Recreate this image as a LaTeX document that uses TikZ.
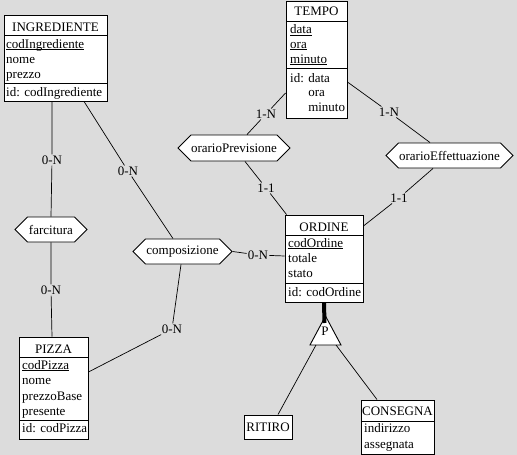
\documentclass[tikz,border=0pt]{standalone}
\usepackage{fontspec}
\setmainfont{Liberation Serif}
\usetikzlibrary{shapes.symbols,calc}
\definecolor{canvas}{RGB}{220,220,220}
% identifier attribute: underlined just below the baseline
\newcommand\idattr[1]{\underline{\smash{#1}}}
\begin{document}
\begin{tikzpicture}[x=1pt,y=-1pt,
  font=\fontsize{13}{15}\selectfont,
  boxline/.style={line width=0.9pt},
  entity/.style={boxline, draw, fill=white, rectangle, inner sep=0pt},
  rel/.style={boxline, draw, fill=white, signal, signal to=east and west,
    signal pointer angle=90, inner xsep=0pt, inner ysep=0pt, minimum height=25},
  card/.style={fill=canvas, inner sep=1pt},
  attr/.style={anchor=base west, inner sep=0pt},
  etitle/.style={anchor=base, inner sep=0pt},
  link/.style={line width=0.7pt},
]
\useasboundingbox (0,0) rectangle (517,455);
\fill[canvas] (0,0) rectangle (517,455);

% ---------- entities ----------
\node[entity, minimum width=103, minimum height=86] (ingr) at (55.5,58) {};
\draw[boxline] (4,35) -- (107,35);
\draw[boxline] (4,83) -- (107,83);
\node[etitle] (ingr-t) at (55.5,31) {INGREDIENTE};
\node[attr] (ingr-a1) at (6,48) {\idattr{codIngrediente}};
\node[attr] (ingr-a2) at (6,63) {nome};
\node[attr] (ingr-a3) at (6,78) {prezzo};
\node[attr] (ingr-id) at (6,96) {id: codIngrediente};

\node[entity, minimum width=61, minimum height=117] (tempo) at (316.5,59.5) {};
\draw[boxline] (286,21) -- (347,21);
\draw[boxline] (286,68) -- (347,68);
\node[etitle] (tempo-t) at (316.5,16) {TEMPO};
\node[attr] (tempo-a1) at (290,34) {\idattr{data}};
\node[attr] (tempo-a2) at (290,48) {\idattr{ora}};
\node[attr] (tempo-a3) at (290,63) {\idattr{minuto}};
\node[attr] (tempo-id1) at (290,82) {id: data};
\node[attr] (tempo-id2) at (290,96) {\phantom{id: }ora};
\node[attr] (tempo-id3) at (290,111) {\phantom{id: }minuto};

\node[entity, minimum width=78, minimum height=87] (ordine) at (324,258.5) {};
\draw[boxline] (285,235) -- (363,235);
\draw[boxline] (285,283) -- (363,283);
\node[etitle] (ordine-t) at (324,231) {ORDINE};
\node[attr] (ordine-a1) at (288,247) {\idattr{codOrdine}};
\node[attr] (ordine-a2) at (288,262) {totale};
\node[attr] (ordine-a3) at (288,277) {stato};
\node[attr] (ordine-id) at (288,296) {id: codOrdine};

\node[entity, minimum width=69, minimum height=102] (pizza) at (53.5,388) {};
\draw[boxline] (19,357) -- (88,357);
\draw[boxline] (19,420) -- (88,420);
\node[etitle] (pizza-t) at (53.5,353) {PIZZA};
\node[attr] (pizza-a1) at (22,369) {\idattr{codPizza}};
\node[attr] (pizza-a2) at (22,384) {nome};
\node[attr] (pizza-a3) at (22,400) {prezzoBase};
\node[attr] (pizza-a4) at (22,415) {presente};
\node[attr] (pizza-id) at (22,432) {id: codPizza};

\node[entity, minimum width=48, minimum height=24] (ritiro) at (268,427) {};
\node[etitle] (ritiro-t) at (268,431) {RITIRO};

\node[entity, minimum width=73, minimum height=54] (consegna) at (397.5,427) {};
\draw[boxline] (361,421) -- (434,421);
\node[etitle] (consegna-t) at (397.5,415) {CONSEGNA};
\node[attr] (consegna-a1) at (364,432) {indirizzo};
\node[attr] (consegna-a2) at (364,448) {assegnata};

% ---------- relationships ----------
\node[rel, minimum width=112, minimum height=26] (oprev) at (234,148) {orarioPrevisione};
\node[rel, minimum width=72] (farc) at (51,229.5) {farcitura};
\node[rel, minimum width=99] (comp) at (182.5,251.5) {composizione};
\node[rel, minimum width=127] (oeff) at (449.5,155.5) {orarioEffettuazione};

% ---------- cardinalities ----------
\node[card] (c1) at (52,160) {0-N};
\node[card] (c2) at (51,290) {0-N};
\node[card] (c3) at (128,171) {0-N};
\node[card] (c4) at (172,329) {0-N};
\node[card] (c5) at (258,255) {0-N};
\node[card] (c6) at (266,114) {1-N};
\node[card] (c7) at (266,188) {1-1};
\node[card] (c8) at (389,112) {1-N};
\node[card] (c9) at (399,198) {1-1};

% ---------- connectors ----------
\draw[link] ($(ingr.south)+(-3.5,0)$) -- (c1) -- (farc.north);
\draw[link] (farc.south) -- (c2) -- ($(pizza.north)+(-1.5,0)$);
\draw[link] ($(ingr.south)+(28.5,0)$) -- (c3) -- ($(comp.north)+(-9.5,0)$);
\draw[link] ($(comp.south)+(-1.5,0)$) -- (c4) -- ($(pizza.east)+(0,-16)$);
\draw[link] (comp.east) -- (c5) -- ($(ordine.west)+(0,-2.5)$);
\draw[link] ($(oprev.north)+(13,0)$) -- (c6) -- ($(tempo.west)+(0,33.5)$);
\draw[link] ($(oprev.south)+(11,0)$) -- (c7) -- ($(ordine.north west)+(2,0)$);
\draw[link] ($(tempo.east)+(0,22.5)$) -- (c8) -- ($(oeff.north)+(-19.5,0)$);
\draw[link] ($(oeff.south)+(-16.5,0)$) -- (c9) -- ($(ordine.east)+(0,-32.5)$);

% ---------- generalisation (partial) ----------
\coordinate (isa-a) at (325.5,316);
\coordinate (isa-l) at (310,345);
\coordinate (isa-r) at (341,345);
\coordinate (isa-bl) at (316,345);
\coordinate (isa-br) at (336,345);
\coordinate (isa-top) at (324.5,323);
\draw[boxline, fill=white] (isa-l) -- (isa-a) -- (isa-r) -- cycle;
\draw[line width=4pt] (ordine.south) -- (isa-top);
\node[etitle] (isa-p) at (325,335) {P};
\draw[link] (isa-bl) -- ($(ritiro.north)+(10,0)$);
\draw[link] (isa-br) -- ($(consegna.north)+(-20.5,0)$);
\end{tikzpicture}
\end{document}
